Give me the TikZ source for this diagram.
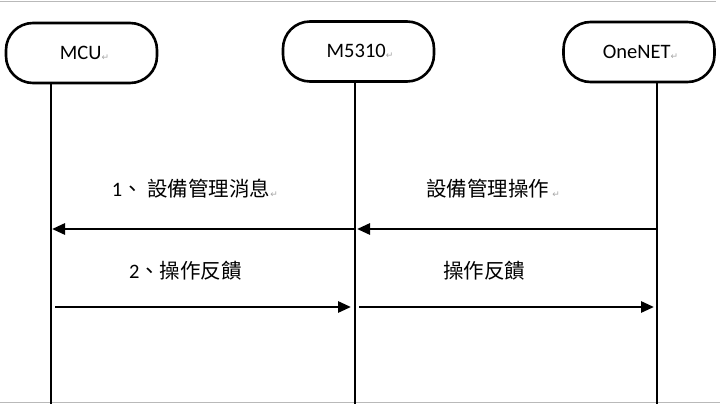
\documentclass[tikz,border=0pt]{standalone}
\usepackage{fontspec}
\setmainfont{Carlito}
\newfontfamily\cjk{Noto Sans CJK TC}
\newfontfamily\dejavu{DejaVu Sans}
\usetikzlibrary{arrows.meta}
\newcommand{\retmk}{{\dejavu\fontsize{9}{10}\selectfont\color{gray!70}\raisebox{-1pt}{↵}}}
\begin{document}
\begin{tikzpicture}[x=1pt,y=-1pt,
  actor/.style={draw,line width=2.6pt,rounded corners=27pt,minimum width=151pt,minimum height=60pt,inner sep=0pt,font=\fontsize{20.5}{24}\selectfont},
  life/.style={line width=2.3pt},
  msg/.style={line width=2.8pt,-{Triangle[length=13pt,width=11pt]}},
  lbl/.style={font=\fontsize{20.5}{24}\selectfont,inner sep=0pt},
  frame/.style={draw=gray!55,line width=0.8pt}
]
\useasboundingbox (0,0) rectangle (720,404);
% faint page frame
\draw[frame] (0,1.5) -- (716,1.5);
\draw[frame] (0,402.5) -- (720,402.5);
% actors
\node[actor] (mcu) at (81.5,53) {\hspace*{6pt}\raisebox{-3.5pt}{MCU\retmk}};
\node[actor] (m5) at (358.5,51.5) {\hspace*{3pt}\raisebox{-2.5pt}{M5310\retmk}};
\node[actor] (one) at (639,52) {\hspace*{3pt}\raisebox{-3pt}{OneNET\retmk}};
% lifeline ends
\coordinate (mcuEnd) at (51,404);
\coordinate (m5End) at (355,404);
\coordinate (oneEnd) at (657,404);
\draw[life] (mcu.south -| mcuEnd) -- (mcuEnd);
\draw[life] (m5.south -| m5End) -- (m5End);
\draw[life] (one.south -| oneEnd) -- (oneEnd);
% message end points
\coordinate (a1s) at (355,229);
\coordinate (a1e) at (52,229);
\coordinate (b1s) at (657,229);
\coordinate (b1e) at (357,229);
\coordinate (a2s) at (55,307);
\coordinate (a2e) at (351,307);
\coordinate (b2s) at (359,307);
\coordinate (b2e) at (654,307);
\draw[msg] (a1s) -- (a1e);
\draw[msg] (b1s) -- (b1e);
\draw[msg] (a2s) -- (a2e);
\draw[msg] (b2s) -- (b2e);
% labels
\node[lbl] (l1) at (195,189) {1{\cjk 、 設備管理消息}\retmk};
\node[lbl] (l2) at (493,189) {{\cjk 設備管理操作}\,\retmk};
\node[lbl] (l3) at (185.5,271) {2{\cjk 、操作反饋}};
\node[lbl] (l4) at (484,271) {{\cjk 操作反饋}};
\end{tikzpicture}
\end{document}
